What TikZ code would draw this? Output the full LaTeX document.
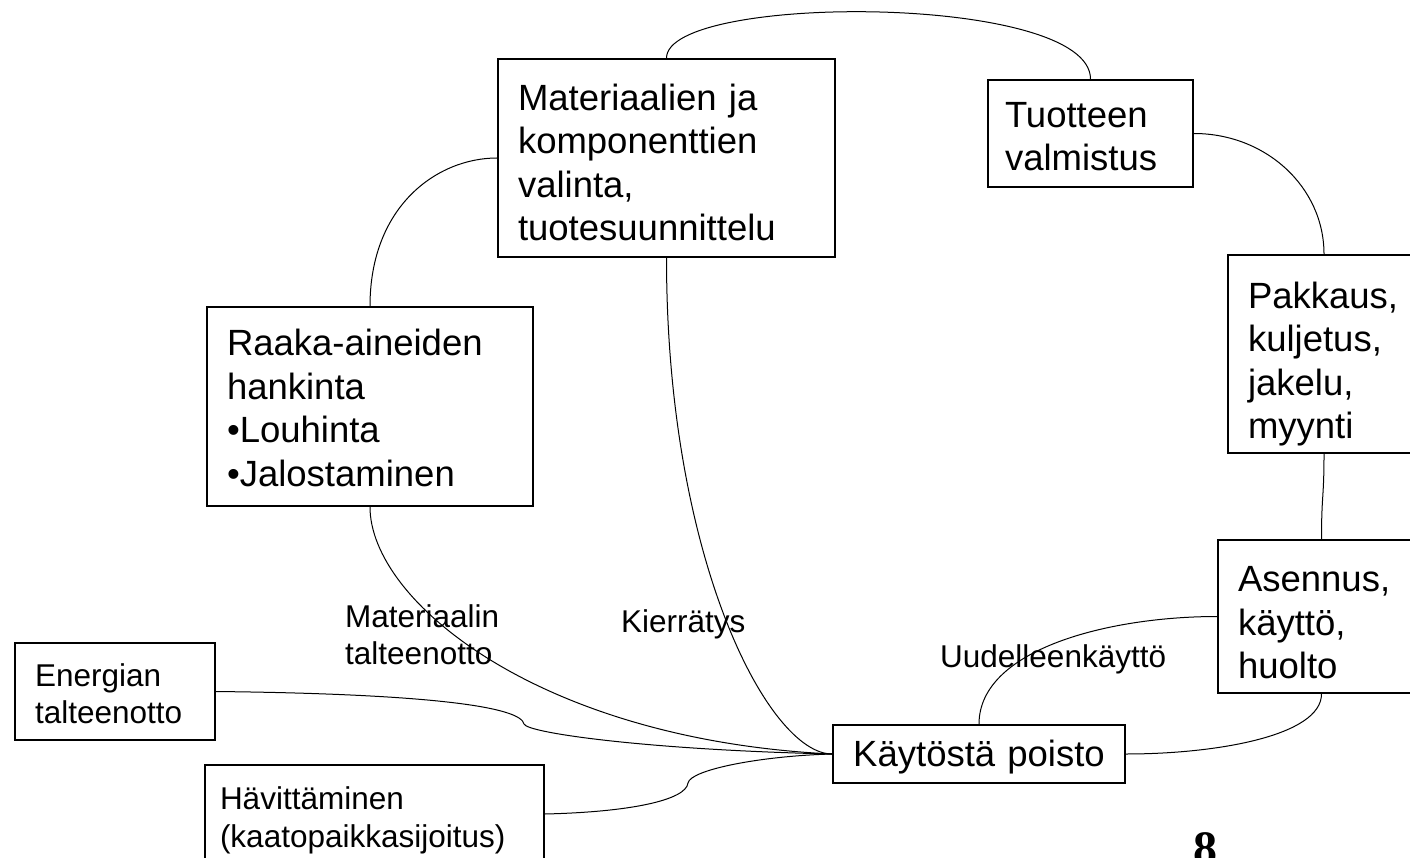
\documentclass[tikz,border=0pt]{standalone}
\usepackage{fontspec}
\setmainfont{Liberation Sans}
\newfontfamily\numfont{Liberation Serif}
\usetikzlibrary{calc}
\newcommand\blk[2][-4pt]{\raisebox{#1}[\height][\depth]{\begin{tabular}{@{}l@{}}#2\end{tabular}}}
\newcommand\lbl[1]{\begin{tabular}[t]{@{}l@{}}#1\end{tabular}}
\begin{document}
\begin{tikzpicture}[x=1pt,y=-1pt,
  box/.style={draw, line width=1.8pt, inner xsep=20pt, inner ysep=0pt, align=left,
              font=\fontsize{36.5}{43.5}\selectfont},
  smallbox/.style={box, font=\fontsize{31.5}{37.5}\selectfont},
  lab/.style={inner sep=0pt, anchor=base west, font=\fontsize{31.5}{37}\selectfont},
  con/.style={line width=1pt}]
\useasboundingbox (0,0) rectangle (1410,858);
% boxes
\node[box, text width=297pt, minimum height=198pt] (mat) at (666.5,158)
  {\blk[-9pt]{Materiaalien ja\\komponenttien\\valinta,\\tuotesuunnittelu}};
\node[box, inner xsep=17pt, text width=171pt, minimum height=107pt] (tuo) at (1090.5,133.5)
  {\blk[-7pt]{Tuotteen\\valmistus}};
\node[box, text width=152pt, minimum height=198pt] (pak) at (1324,354)
  {\blk[-11pt]{Pakkaus,\\kuljetus,\\jakelu,\\myynti}};
\node[box, text width=167pt, minimum height=153pt] (asen) at (1321.5,616.5)
  {\blk[-10pt]{Asennus,\\käyttö,\\huolto}};
\node[box, inner xsep=0pt, text width=292pt, align=center, minimum height=58pt] (kay) at (979,754)
  {\blk{Käytöstä poisto}};
\node[box, text width=286pt, minimum height=199pt] (raa) at (370,406.5)
  {\blk[-6pt]{Raaka-aineiden\\hankinta\\•Louhinta\\•Jalostaminen}};
\node[smallbox, text width=160pt, minimum height=97pt] (ene) at (115,691.5)
  {\blk[-6pt]{Energian\\talteenotto}};
\node[smallbox, inner xsep=15pt, text width=309pt, minimum height=98pt] (hav) at (374.5,814)
  {\blk[-7pt]{Hävittäminen\\(kaatopaikkasijoitus)}};
% labels
\node[lab] (lmat) at (345,627) {\lbl{Materiaalin\\talteenotto}};
\node[lab] (lkie) at (621,632) {Kierrätys};
\node[lab] (luud) at (940,667) {Uudelleenkäyttö};
\node[inner sep=0pt, anchor=base, font=\numfont\bfseries\fontsize{48}{48}\selectfont] (num) at (1205,864) {8};
% connectors
\draw[con] (raa.north) .. controls +(0,-100) and +(-60,0) .. (mat.west);
\draw[con] (mat.north) .. controls +(0,-65) and +(0,-86) .. (tuo.north);
\draw[con] (tuo.east) .. controls +(72,0) and +(0,-67) .. (pak.north);
\draw[con] (pak.south) .. controls +(0,45) and +(0,-45) .. (asen.north);
\draw[con] (asen.south) .. controls +(0,42) and +(90,0) .. (kay.east);
\draw[con] (asen.west) .. controls +(-108,0) and +(0,-75) .. (kay.north);
\draw[con] (mat.south) .. controls +(0,303) and +(-63,0) .. (kay.west);
\draw[con] (raa.south) .. controls +(0,94) and +(-293,-14) .. (kay.west);
\coordinate (k1) at (524,724);
\draw[con] (ene.east) .. controls +(225,2.5) and +(-3,-16) .. (k1)
  .. controls +(3,9) and +(-183,-4) .. (kay.west);
\coordinate (k2) at (688,783);
\draw[con] (hav.east) .. controls +(86,-2) and +(-2,17) .. (k2)
  .. controls +(2,-13) and +(-73,2) .. (kay.west);
\end{tikzpicture}
\end{document}
